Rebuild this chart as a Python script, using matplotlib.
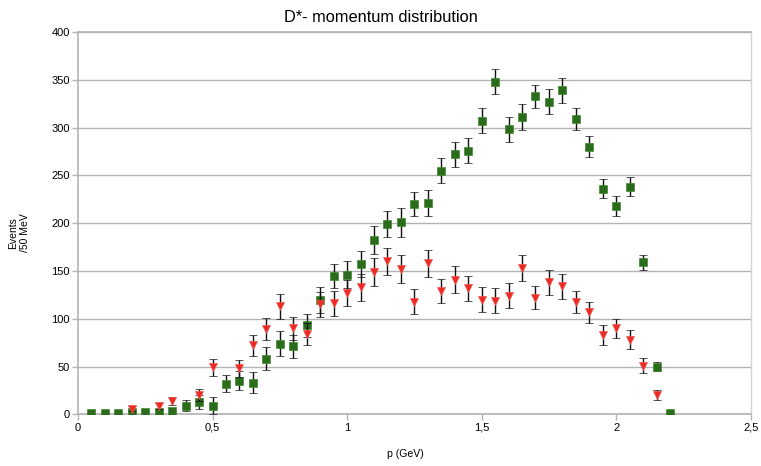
import matplotlib
matplotlib.use("Agg")
import matplotlib.pyplot as plt

plt.rcParams['font.family'] = ['Liberation Sans', 'DejaVu Sans']

# D*- candidates per 50 MeV momentum bin
p_green = [0.05, 0.10, 0.15, 0.20, 0.25, 0.30, 0.35, 0.40, 0.45, 0.50,
           0.55, 0.60, 0.65, 0.70, 0.75, 0.80, 0.85, 0.90, 0.95, 1.00,
           1.05, 1.10, 1.15, 1.20, 1.25, 1.30, 1.35, 1.40, 1.45, 1.50,
           1.55, 1.60, 1.65, 1.70, 1.75, 1.80, 1.85, 1.90, 1.95, 2.00,
           2.05, 2.10, 2.15, 2.20]
n_green = [1, 1, 1, 2, 2, 2, 3, 9, 13, 9,
           32, 35, 33, 58, 74, 71, 93, 120, 145, 146,
           157, 182, 199, 201, 220, 221, 255, 272, 276, 307,
           348, 298, 311, 333, 327, 339, 309, 280, 236, 218,
           238, 159, 50, 1]
err_green = [0.5, 0.5, 0.8, 1.2, 1.2, 1.2, 2.5, 6, 7, 9,
             9, 10, 11, 12, 13, 12, 12, 13.5, 12.5, 14,
             13.5, 14.5, 14, 15, 13, 14, 13, 13, 13, 13,
             13, 13, 14, 12, 13, 13, 12, 11, 10, 10,
             10, 8, 4.5, 0.6]

p_red = [0.20, 0.30, 0.35, 0.45, 0.50, 0.60, 0.65, 0.70, 0.75, 0.80,
         0.85, 0.90, 0.95, 1.00, 1.05, 1.10, 1.15, 1.20, 1.25, 1.30,
         1.35, 1.40, 1.45, 1.50, 1.55, 1.60, 1.65, 1.70, 1.75, 1.80,
         1.85, 1.90, 1.95, 2.00, 2.05, 2.10, 2.15]
n_red = [6, 9, 14, 20, 49, 48, 72, 89, 113, 90,
         84, 115, 116, 127, 133, 149, 160, 152, 118, 158,
         129, 141, 132, 120, 119, 124, 153, 122, 138, 134,
         118, 107, 83, 90, 78, 51, 20]
err_red = [3, 3, 4, 6, 8.5, 9, 11, 11.5, 13, 12,
           12, 13, 13, 13.5, 14, 14.5, 14, 15, 13, 14,
           13, 14, 13, 13, 13, 13, 13.5, 12, 13, 13,
           11.5, 11, 10, 10, 10, 7.5, 5]

x_ticks = [0, 0.5, 1, 1.5, 2, 2.5]
x_tick_labels = ['0', '0,5', '1', '1,5', '2', '2,5']
y_ticks = list(range(0, 401, 50))

fig = plt.figure(figsize=(7.61, 4.66), dpi=100)
ax = fig.add_axes([78 / 761, (466 - 414.3) / 466, (750.7 - 78) / 761, (414.3 - 32) / 466])

ax.errorbar(p_green, n_green, yerr=err_green, fmt='s', color='#2b6b1c',
            markersize=5.8, markeredgecolor='#3f8a2e', markeredgewidth=0.5,
            ecolor='#111111', elinewidth=1, capsize=3, capthick=1, zorder=3)
ax.errorbar(p_red, n_red, yerr=err_red, fmt='v', color='#ee2a24',
            markersize=5.3, markeredgecolor='#f05550', markeredgewidth=0.5,
            ecolor='#111111', elinewidth=1, capsize=3, capthick=1, zorder=4)

ax.set_xlim(0, 2.5)
ax.set_ylim(0, 400)
ax.set_xticks(x_ticks)
ax.set_xticklabels(x_tick_labels)
ax.set_yticks(y_ticks)

ax.yaxis.grid(True, color='#b3b3b3', linewidth=1)
ax.set_axisbelow(True)
for side in ['left', 'bottom', 'top']:
    ax.spines[side].set_color('#b3b3b3')
    ax.spines[side].set_linewidth(1.2)
ax.spines['right'].set_color('#d4d4d4')
ax.spines['right'].set_linewidth(1)

ax.tick_params(axis='both', direction='out', length=4, width=1,
               color='#b3b3b3', labelsize=8, labelcolor='black', pad=2)

fig.text(380.5 / 761, 1 - 17 / 466, 'D*- momentum distribution',
         ha='center', va='center', fontsize=11.8)
fig.text(405 / 761, 1 - 454 / 466, 'p (GeV)',
         ha='center', va='center', fontsize=7.6)
fig.text(19 / 761, 1 - 233 / 466, 'Events\n/50 MeV', rotation=90,
         ha='center', va='center', fontsize=7.5, linespacing=1.15)

fig.savefig('out.png', dpi=100)
